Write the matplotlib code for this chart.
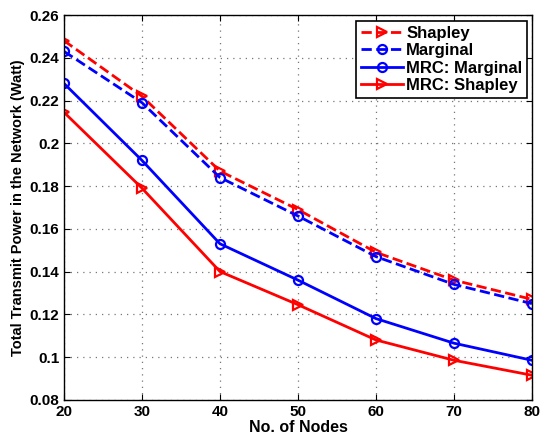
import matplotlib
matplotlib.use("Agg")
import matplotlib.pyplot as plt

plt.rcParams["font.family"] = ["Liberation Sans", "DejaVu Sans"]
plt.rcParams["font.weight"] = "bold"

# ── Data ──────────────────────────────────────────────────────────────────────
nodes = [20, 30, 40, 50, 60, 70, 80]
shapley = [0.248, 0.222, 0.187, 0.169, 0.149, 0.136, 0.127]
marginal = [0.243, 0.219, 0.184, 0.166, 0.147, 0.134, 0.125]
mrc_marginal = [0.228, 0.192, 0.153, 0.136, 0.118, 0.1065, 0.0985]
mrc_shapley = [0.2145, 0.179, 0.140, 0.1245, 0.108, 0.0985, 0.0915]

y_ticks = [0.08, 0.1, 0.12, 0.14, 0.16, 0.18, 0.2, 0.22, 0.24, 0.26]
y_labels = ["0.08", "0.1", "0.12", "0.14", "0.16", "0.18", "0.2", "0.22", "0.24", "0.26"]

# ── Plot ──────────────────────────────────────────────────────────────────────
fig = plt.figure(figsize=(5.4, 4.36), dpi=100)
ax = fig.add_axes([0.1185, 0.083, 0.8665, 0.8825])

common = dict(linewidth=2.0, markersize=6.5, markerfacecolor="none", markeredgewidth=1.6)
ax.plot(nodes, shapley, "--", color="red", marker=">", label="Shapley", **common)
ax.plot(nodes, marginal, "--", color="blue", marker="o", label="Marginal", **common)
ax.plot(nodes, mrc_marginal, "-", color="blue", marker="o", label="MRC: Marginal", **common)
ax.plot(nodes, mrc_shapley, "-", color="red", marker=">", label="MRC: Shapley", **common)

ax.set_xlim(20, 80)
ax.set_ylim(0.08, 0.26)
ax.set_xticks(nodes)
ax.set_yticks(y_ticks)
ax.set_yticklabels(y_labels)
ax.tick_params(direction="in", top=True, right=True, labelsize=11, width=0.8, length=4)
for lbl in ax.get_xticklabels() + ax.get_yticklabels():
    lbl.set_fontweight("bold")

ax.grid(True, linestyle=(0, (1, 4)), color="#777777", linewidth=0.9)
for s in ax.spines.values():
    s.set_linewidth(1.0)

ax.set_xlabel("No. of Nodes", fontsize=11.5, fontweight="bold", labelpad=1)
ax.set_ylabel("Total Transmit Power in the Network (Watt)", fontsize=10.5, fontweight="bold", labelpad=3)

leg = ax.legend(loc="upper right", bbox_to_anchor=(0.99, 0.985), fontsize=12, handlelength=2.5,
                borderaxespad=0.0, fancybox=False, edgecolor="black", framealpha=1,
                labelspacing=0.15, handletextpad=0.2, borderpad=0.3, numpoints=1)
leg.get_frame().set_linewidth(1.2)
for t in leg.get_texts():
    t.set_fontweight("bold")

fig.savefig("out.png", dpi=100)
